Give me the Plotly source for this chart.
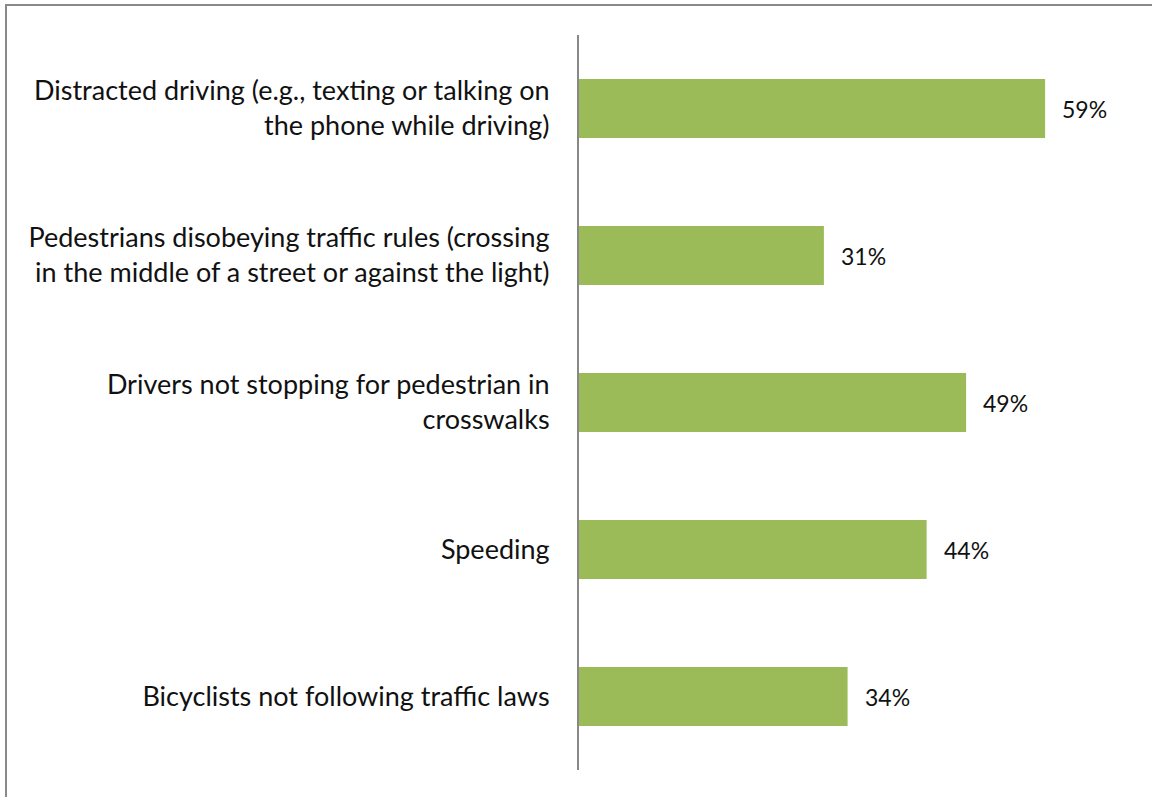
import plotly.graph_objects as go

# categories (top to bottom) and share of respondents
categories = [
    "Distracted driving (e.g., texting or talking on<br>the phone while driving)",
    "Pedestrians disobeying traffic rules (crossing<br>in the middle of a street or against the light)",
    "Drivers not stopping for pedestrian in<br>crosswalks",
    "Speeding",
    "Bicyclists not following traffic laws",
]
values = [59, 31, 49, 44, 34]
value_labels = ["59%", "31%", "49%", "44%", "34%"]

W, H = 1156, 797
ml, mr, mt, mb = 579, 24, 35, 27
pw = W - ml - mr
ph = H - mt - mb

fig = go.Figure(go.Bar(
    x=values,
    y=categories,
    orientation="h",
    marker=dict(color="#9BBB59", line=dict(width=0)),
    width=0.4,
    hoverinfo="skip",
))

for cat, val, lab in zip(categories, values, value_labels):
    fig.add_annotation(
        x=val, y=cat, text=lab, showarrow=False,
        xanchor="left", xshift=15,
        font=dict(family="Lato, sans-serif", size=23, color="#111"),
    )


def px_x(v):
    return (v - ml) / pw


def px_y(v):
    return (H - mb - v) / ph


# outer chart border (top and left visible)
fig.add_shape(type="line", xref="paper", yref="paper",
              x0=px_x(5), x1=px_x(1152), y0=px_y(5), y1=px_y(5),
              line=dict(color="#898989", width=2))
fig.add_shape(type="line", xref="paper", yref="paper",
              x0=px_x(6), x1=px_x(6), y0=px_y(5), y1=px_y(797),
              line=dict(color="#898989", width=2))

fig.update_layout(
    width=W, height=H,
    margin=dict(l=ml, r=mr, t=mt, b=mb),
    plot_bgcolor="white",
    paper_bgcolor="white",
    showlegend=False,
    font=dict(family="Lato, sans-serif", size=27, color="#111"),
    xaxis=dict(range=[0, 70], visible=False, showgrid=False, zeroline=False),
    yaxis=dict(
        autorange="reversed",
        showline=True, linecolor="#888888", linewidth=2,
        ticks="", ticklabelstandoff=22, showgrid=False,
        tickfont=dict(size=27, color="#111"),
    ),
)

fig.write_html("out.html", config={"displayModeBar": False},
               post_script="document.body.style.margin='0';")
